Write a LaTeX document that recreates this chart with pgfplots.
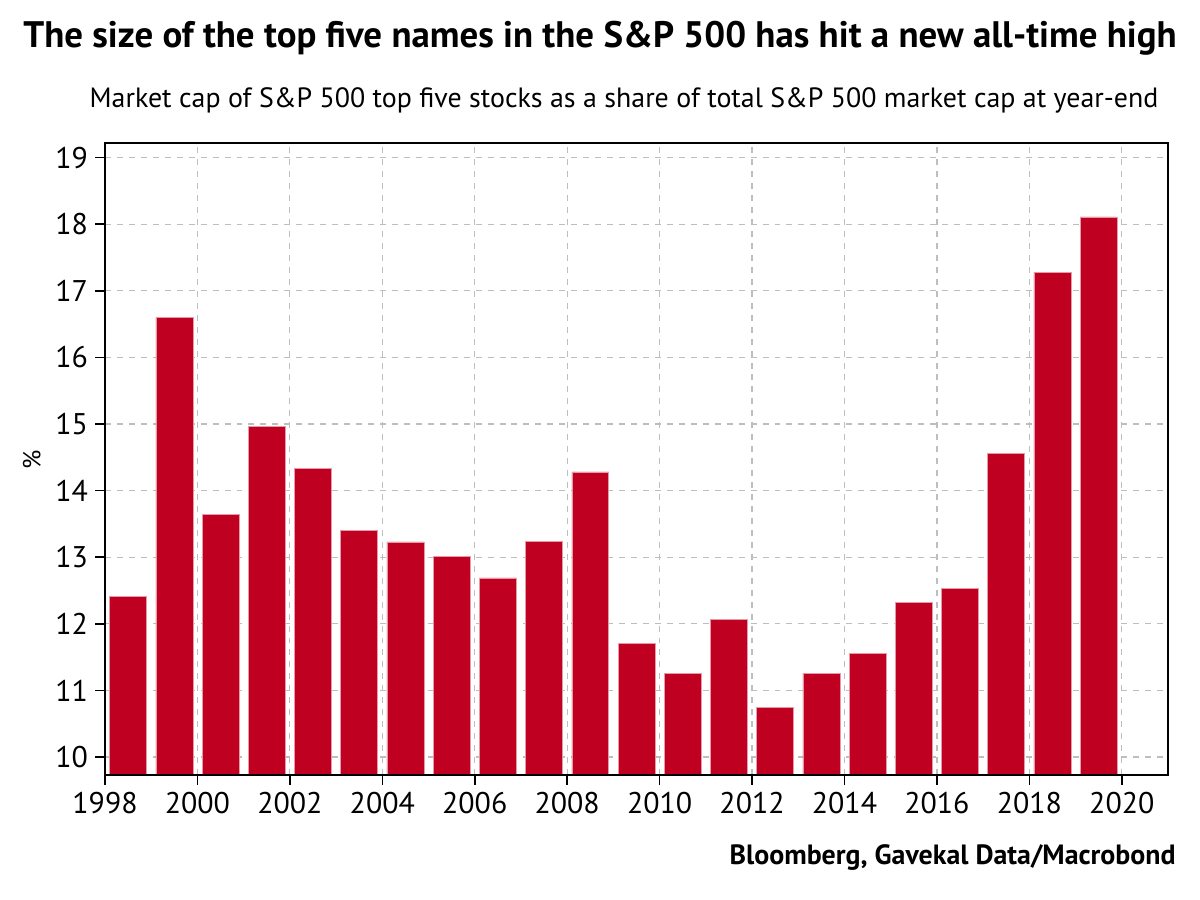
\documentclass[border=0pt]{standalone}
\usepackage{fontspec}
\setmainfont{PT Sans}
\usepackage{pgfplots}
\pgfplotsset{compat=1.18}
\definecolor{barred}{RGB}{192,0,32}
\definecolor{gridgray}{RGB}{190,190,190}
\begin{document}
\begin{tikzpicture}[x=1bp,y=1bp]
\path[use as bounding box] (0,0) rectangle (600,450);
\begin{axis}[
  at={(52.5bp,62.5bp)}, anchor=south west,
  scale only axis, width=531.5bp, height=316bp,
  xmin=1998, xmax=2021, ymin=9.73, ymax=19.22,
  clip=false,
  xtick={1998,2000,...,2020}, ytick={10,11,...,19},
  xticklabel style={/pgf/number format/1000 sep={}},
  /pgf/number format/assume math mode=true,
  tick label style={font=\fontsize{15}{15}\selectfont},
  tick align=outside, tick pos=left,
  major tick length=5bp,
  axis line style={line width=0.9bp},
  major tick style={line width=0.8bp, black},
  grid=major,
  major grid style={gridgray, dashed, line width=0.6bp},
]
\addplot[ybar, bar width=0.8, fill=barred, draw=barred!40, line width=0.3bp] coordinates {
  (1998.5,12.41) (1999.5,16.60) (2000.5,13.64) (2001.5,14.96) (2002.5,14.33)
  (2003.5,13.40) (2004.5,13.23) (2005.5,13.01) (2006.5,12.69) (2007.5,13.24)
  (2008.5,14.28) (2009.5,11.71) (2010.5,11.26) (2011.5,12.07) (2012.5,10.74)
  (2013.5,11.26) (2014.5,11.56) (2015.5,12.32) (2016.5,12.53) (2017.5,14.56)
  (2018.5,17.28) (2019.5,18.11)
};
\draw[line width=0.9bp, black] (rel axis cs:0,0) rectangle (rel axis cs:1,1);
\end{axis}
\node[font=\bfseries\fontsize{18.5}{18.5}\selectfont] at (300,431) {The size of the top five names in the S\&P 500 has hit a new all-time high};
\node[font=\fontsize{14}{14}\selectfont] at (312,400) {Market cap of S\&P 500 top five stocks as a share of total S\&P 500 market cap at year-end};
\node[font=\fontsize{12.5}{12.5}\selectfont, rotate=90] at (16,220) {\%};
\node[font=\bfseries\fontsize{14}{14}\selectfont, anchor=east, inner sep=0pt] at (588,21) {Bloomberg, Gavekal Data/Macrobond};
\end{tikzpicture}
\end{document}
